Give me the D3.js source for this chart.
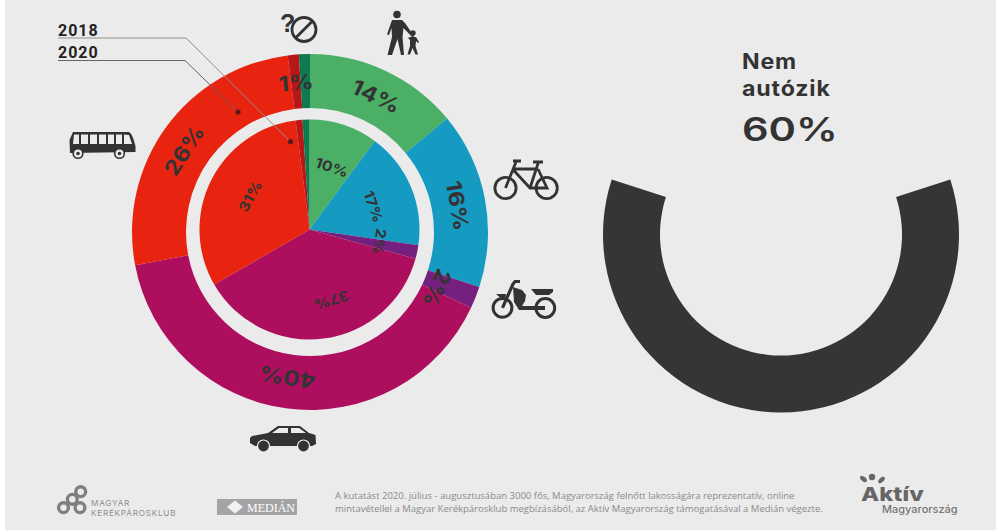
<!DOCTYPE html>
<html lang="hu">
<head>
<meta charset="utf-8">
<title>Közlekedési módok megoszlása</title>
<script src="https://cdn.jsdelivr.net/npm/d3@7/dist/d3.min.js"></script>
<style>
  html, body { margin: 0; padding: 0; background: #fff; }
  svg { display: block; }
</style>
</head>
<body>
<svg id="chart" width="1000" height="530"></svg>
<script>
// Travel modes, clockwise from twelve o'clock
const modes = ["gyalog", "kerékpár", "moped", "autó", "busz", "nem tudja", "nem utazik"];
const share2020 = [14, 16, 2, 40, 26, 1, 1];
const share2018 = [10, 17, 2, 37, 31, 1, 1];
const labels2020 = ["14%", "16%", "2%", "40%", "26%", "1%", ""];
const labels2018 = ["10%", "17%", "2%", "37%", "31%", "", ""];
const modeColors = ["#4bb066", "#159ac2", "#75207f", "#ad0f5e", "#e8230f", "#b81717", "#0e7a50"];

const noCarShare = 60;
const noCarTitle = ["Nem", "autózik"];
const noCarValue = "60%";

const legendYears = ["2018", "2020"];
const footnote = [
  "A kutatást 2020. július  - augusztusában 3000 fős, Magyarország felnőtt lakosságára reprezentatív, online",
  "mintavétellel a Magyar Kerékpárosklub megbízásából, az Aktív Magyarország támogatásával a Medián végezte."
];

const INK = "#333333";
const PAPER = "#ebebeb";
const svg = d3.select("#chart");
svg.append("rect").attr("width", 1000).attr("height", 530).attr("fill", "#fff");
svg.append("rect").attr("x", 5).attr("width", 991).attr("height", 530).attr("fill", PAPER);

const pie = d3.pie().sort(null).value(d => d);

function drawRing(center, rInner, rOuter, values) {
  const arc = d3.arc().innerRadius(rInner).outerRadius(rOuter);
  const g = svg.append("g").attr("transform", `translate(${center})`);
  g.selectAll("path").data(pie(values)).join("path")
    .attr("d", arc)
    .attr("fill", (d, i) => modeColors[i]);
  return g;
}

// Percent labels follow the ring: each one is turned to its slice's mid-angle
function drawLabels(g, slices, texts, radii, size, nudge) {
  g.selectAll("text").data(slices).join("text")
    .text((d, i) => texts[i])
    .attr("transform", (d, i) => {
      const a = (d.startAngle + d.endAngle) / 2 * 180 / Math.PI + nudge[i];
      const [x, y] = d3.pointRadial(a * Math.PI / 180, radii[i]);
      return `translate(${x},${y}) rotate(${a}) scale(1.14,1)`;
    })
    .attr("text-anchor", "middle")
    .attr("dy", "0.36em")
    .attr("font-family", "Inter, 'DejaVu Sans', sans-serif")
    .attr("font-weight", 700)
    .attr("font-size", size)
    .attr("fill", INK);
}

// Outer ring: 2020
const outer = drawRing([310, 232], 124, 178, share2020);
drawLabels(outer, pie(share2020), labels2020, [151, 150, 139, 147, 150, 150, 0], 21, [0.7, 0.7, 2.2, 1.6, -3, 0, 0]);

// Inner pie: 2018
const inner = drawRing([309.5, 229.5], 0, 110, share2018);
drawLabels(inner, pie(share2018), labels2018, [66, 68, 71, 74, 68, 0, 0], 14, [1.5, 3, -2, -10, 3, 0, 0]);

// Right half-ring: share not using a car, centred on six o'clock
const sweep = noCarShare / 100 * 2 * Math.PI;
const noCarArc = d3.arc().innerRadius(121).outerRadius(178)
  .startAngle(Math.PI - sweep / 2).endAngle(Math.PI + sweep / 2);
svg.append("path").attr("transform", "translate(781,234.5)").attr("d", noCarArc()).attr("fill", "#353535");

svg.append("g").selectAll("text").data(noCarTitle).join("text")
  .text(d => d)
  .attr("transform", (d, i) => `translate(742,${69 + i * 27}) scale(1.1,1)`)
  .attr("font-family", "Inter, sans-serif").attr("font-weight", 700)
  .attr("font-size", 21).attr("letter-spacing", 0.8).attr("fill", INK);
svg.append("text").text(noCarValue)
  .attr("transform", "translate(742,140.5) scale(1.3,1)")
  .attr("font-family", "Inter, sans-serif").attr("font-weight", 600)
  .attr("font-size", 32).attr("fill", INK);

// Year legend with leader lines into the rings
const legendRows = [
  { y: 38, elbow: 186, tip: [290.5, 141.7], stroke: "#8f8f8f", textY: 35.5 },
  { y: 60.5, elbow: 185, tip: [238, 112], stroke: "#666", textY: 58.3 }
];
legendRows.forEach((r, i) => {
  svg.append("path")
    .attr("d", d3.line()([[58, r.y], [r.elbow, r.y], r.tip]))
    .attr("fill", "none").attr("stroke", r.stroke).attr("stroke-width", 1);
  svg.append("circle").attr("cx", r.tip[0]).attr("cy", r.tip[1]).attr("r", 2.6).attr("fill", "#5a1a1a");
  svg.append("text").text(legendYears[i]).attr("x", 58).attr("y", r.textY)
    .attr("font-family", "Roboto, sans-serif").attr("font-weight", 700)
    .attr("font-size", 16).attr("letter-spacing", 1).attr("fill", "#222");
});

// Pictograms
const icons = svg.append("g").attr("fill", INK);

// no answer / does not travel
icons.append("text").text("?").attr("x", 280).attr("y", 32)
  .attr("font-family", "'Liberation Sans', sans-serif").attr("font-weight", 700).attr("font-size", 25);
icons.append("circle").attr("cx", 304).attr("cy", 29.5).attr("r", 12)
  .attr("fill", "none").attr("stroke", INK).attr("stroke-width", 2.8);
icons.append("line").attr("x1", 296).attr("y1", 37.5).attr("x2", 312).attr("y2", 21.5)
  .attr("stroke", INK).attr("stroke-width", 2.8);

// adult and child walking
icons.append("circle").attr("cx", 397).attr("cy", 14.5).attr("r", 3.8);
icons.append("path").attr("d", "M392,20 L402,20 L405,23 L414,36 L413,38 L403.5,28 L402.5,37 L404,55 L401,55 L397.5,39 L392,55 L387.5,55 L392,37 L391.5,28 L389,35 L387,34.5 Z");
icons.append("circle").attr("cx", 413).attr("cy", 33).attr("r", 2.7);
icons.append("path").attr("d", "M410,37 L416,37 L419,42 L418,43 L416,41 L415.5,46 L418,54.5 L415.5,54.5 L412.5,48 L410,54.5 L407.5,54.5 L410,46 L410,40 L408,38 Z");

// bicycle
const bike = icons.append("g").attr("fill", "none").attr("stroke", INK).attr("stroke-width", 2.8);
bike.append("circle").attr("cx", 505.5).attr("cy", 188).attr("r", 10.6);
bike.append("circle").attr("cx", 546.7).attr("cy", 188).attr("r", 10.6);
bike.append("path").attr("d", "M505.5,188 L516,162 M513,161 L521,161 M512.5,169 L538,169 M512.5,169 L530,188 L547,188 L538,169 M538.5,162 L530,188 M533,162 L543,162");

// moped
const moped = icons.append("g");
moped.append("circle").attr("cx", 502.5).attr("cy", 307.8).attr("r", 9.4).attr("fill", "none").attr("stroke", INK).attr("stroke-width", 3);
moped.append("circle").attr("cx", 545.3).attr("cy", 308).attr("r", 9.4).attr("fill", "none").attr("stroke", INK).attr("stroke-width", 3);
moped.append("path").attr("d", "M502.5,307.8 L513,284 L515,281.5 L520,281.5").attr("fill", "none").attr("stroke", INK).attr("stroke-width", 3.2);
moped.append("path").attr("d", "M513,287 L522,290 L526,295 L525,301 L522,306 L545,306 L545,310 L519,310 L514,302 Z");
moped.append("path").attr("d", "M531,289 L553,289 L553,292 L549,295 L536,295 Z");
moped.append("path").attr("d", "M496,294 L506,294 L505.5,298 L500,297.5 Z");

// bus
icons.append("path").attr("fill-rule", "evenodd").attr("d",
  "M73,132 L128,132 C130,132 132,134 134,141 L135.5,146 L135.5,152 L70,153 L69.5,140 Z M74,134.5 L73,144 L79,144 L79,134.5 Z M81,134.5 L81,144 L88,144 L88,134.5 Z M90,134.5 L90,144 L97,144 L97,134.5 Z M99,134.5 L99,144 L106,144 L106,134.5 Z M108,134.5 L108,144 L114,144 L114,134.5 Z M116,134.5 L116,144 L122,144 L122,134.5 Z M124,134.5 L124,144 L132,144 L129,135 Z");
[78, 119.5].forEach(cx => {
  icons.append("circle").attr("cx", cx).attr("cy", 153.5).attr("r", 4.8).attr("fill", PAPER).attr("stroke", INK).attr("stroke-width", 1.6);
  icons.append("circle").attr("cx", cx).attr("cy", 153.5).attr("r", 1.8);
});

// car
icons.append("path").attr("fill-rule", "evenodd").attr("d",
  "M250,438 L252,436 L268,433 L278,426 L300,426 L309,433 L315.5,435 L316,444 L312,446 L255,446 L250,443 Z M272,433 L288,433 L288,428 L279,428 Z M291,428 L291,433 L306,433 L299,428 Z");
[263.5, 303.5].forEach(cx => {
  icons.append("circle").attr("cx", cx).attr("cy", 446).attr("r", 6.6).attr("fill", PAPER);
  icons.append("circle").attr("cx", cx).attr("cy", 446).attr("r", 5.4);
});

// Footer
const logoGrey = "#7f7f7f";
const club = svg.append("g").attr("fill", "none").attr("stroke", logoGrey).attr("stroke-width", 3.4);
[[63.5, 507.7], [80, 507.7], [72.3, 499.3], [80.7, 491.7]].forEach(([x, y]) =>
  club.append("circle").attr("cx", x).attr("cy", y).attr("r", 4.9));
svg.append("g").selectAll("text").data(["MAGYAR", "KERÉKPÁROSKLUB"]).join("text")
  .text(d => d).attr("x", 91).attr("y", (d, i) => 506 + i * 9.7)
  .attr("font-family", "Inter, sans-serif").attr("font-size", 8.2).attr("letter-spacing", 0.75).attr("fill", "#8e8e8e");

svg.append("rect").attr("x", 217).attr("y", 499).attr("width", 80).attr("height", 16).attr("fill", "#a4a4a4");
svg.append("path").attr("d", "M227,507 L235,500.5 L243,507 L235,513.5 Z").attr("fill", "#f2f2f2");
svg.append("text").text("MEDIÁN").attr("x", 247).attr("y", 512)
  .attr("textLength", 48).attr("lengthAdjust", "spacingAndGlyphs")
  .attr("font-family", "'Liberation Serif', serif").attr("font-size", 13).attr("fill", "#fff");

svg.append("g").selectAll("text").data(footnote).join("text")
  .text(d => d).attr("x", 335).attr("y", (d, i) => 499 + i * 13)
  .attr("font-family", "'Open Sans', sans-serif").attr("font-size", 9.5).attr("fill", "#8a8a8a");

svg.append("text").text("Aktív")
  .attr("transform", "translate(861,501) scale(1.25,1)")
  .attr("font-family", "Inter, sans-serif").attr("font-weight", 800).attr("font-size", 19).attr("fill", "#666");
svg.append("text").text("Magyarország").attr("x", 882).attr("y", 513)
  .attr("font-family", "Inter, sans-serif").attr("font-weight", 500).attr("font-size", 11).attr("fill", "#777");
// Figure above the wordmark: a head and two raised arms
svg.append("circle").attr("cx", 872).attr("cy", 477).attr("r", 3.2).attr("fill", "#666");
[[863.5, 479, 40], [881.5, 480, -45]].forEach(([x, y, tilt]) =>
  svg.append("ellipse").attr("rx", 4).attr("ry", 2.2)
    .attr("transform", `translate(${x},${y}) rotate(${tilt})`).attr("fill", "#666"));
</script>
</body>
</html>
